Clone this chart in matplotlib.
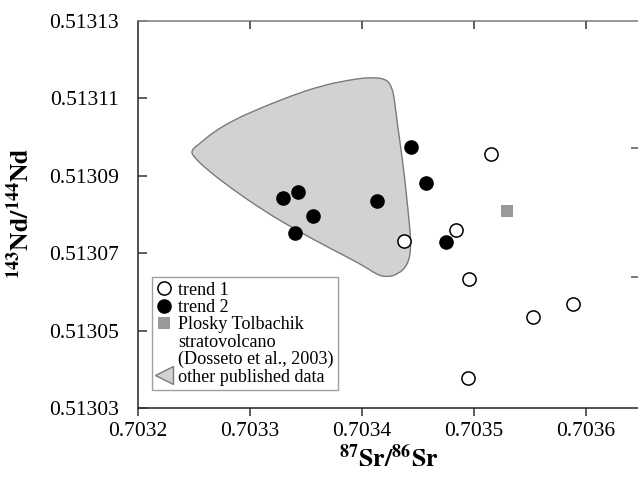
import matplotlib
matplotlib.use("Agg")
import matplotlib.pyplot as plt
from matplotlib.lines import Line2D
from matplotlib.path import Path
from matplotlib.patches import PathPatch

plt.rcParams['font.family'] = ['Liberation Serif', 'DejaVu Serif']
plt.rcParams['mathtext.fontset'] = 'stix'

# ---- data ----
trend1_sr = [0.7035156, 0.7034379, 0.7034835, 0.7034954, 0.7035882, 0.7035525, 0.7034945]
trend1_nd = [0.5130956, 0.5130731, 0.5130761, 0.5130634, 0.5130569, 0.5130536, 0.5130377]

trend2_sr = [0.7033293, 0.7033427, 0.7033564, 0.7033406, 0.7034136, 0.7034439, 0.7034573, 0.7034754]
trend2_nd = [0.5130842, 0.5130859, 0.5130797, 0.5130752, 0.5130834, 0.5130974, 0.5130882, 0.5130728]

plosky_sr = [0.7035296]
plosky_nd = [0.5130810]

# outline of the "other published data" field (control points of a smooth closed curve)
field_sr = [0.7032470, 0.7032558, 0.7032674, 0.7032853, 0.7033094, 0.7033362, 0.7033629,
            0.7033871, 0.7034076, 0.7034220, 0.7034270, 0.7034290, 0.7034317, 0.7034362,
            0.7034397, 0.7034424, 0.7034440, 0.7034410, 0.7034320, 0.7034220, 0.7034130,
            0.7034013, 0.7033719, 0.7033424, 0.7033121, 0.7032826, 0.7032621, 0.7032500]
field_nd = [0.5130965, 0.5130985, 0.5131013, 0.5131044, 0.5131075, 0.5131106, 0.5131132,
            0.5131147, 0.5131155, 0.5131150, 0.5131127, 0.5131096, 0.5131031, 0.5130941,
            0.5130851, 0.5130773, 0.5130715, 0.5130670, 0.5130645, 0.5130638, 0.5130645,
            0.5130668, 0.5130712, 0.5130758, 0.5130810, 0.5130869, 0.5130915, 0.5130948]

x_ticks = [0.7032, 0.7033, 0.7034, 0.7035, 0.7036]
x_ticklabels = ['0.7032', '0.7033', '0.7034', '0.7035', '0.7036']
y_ticks = [0.51303, 0.51305, 0.51307, 0.51309, 0.51311, 0.51313]
y_ticklabels = ['0.51303', '0.51305', '0.51307', '0.51309', '0.51311', '0.51313']
right_ticks = [0.5130639, 0.5130972]

legend_labels = ['trend 1', 'trend 2', 'Plosky Tolbachik', 'stratovolcano',
                 '(Dosseto et al., 2003)', 'other published data']

# ---- figure ----
fig = plt.figure(figsize=(6.38, 4.78), dpi=100)
ax = fig.add_axes([138/638, 1 - 408/478, 500/638, 387/478])

# smooth closed outline: quadratic Beziers through midpoints of the control points
pts = list(zip(field_sr, field_nd))
n = len(pts)
mids = [((pts[i][0] + pts[(i + 1) % n][0]) / 2, (pts[i][1] + pts[(i + 1) % n][1]) / 2) for i in range(n)]
verts = [mids[-1]]
codes = [Path.MOVETO]
for i in range(n):
    verts += [pts[i], mids[i]]
    codes += [Path.CURVE3, Path.CURVE3]
verts.append(mids[-1])
codes.append(Path.CLOSEPOLY)
ax.add_patch(PathPatch(Path(verts, codes), facecolor='#d2d2d2', edgecolor='#7a7a7a',
                       linewidth=1.0, zorder=1))

ax.plot(trend1_sr, trend1_nd, 'o', ms=9.5, mfc='white', mec='black', mew=1.1, zorder=3)
ax.plot(trend2_sr, trend2_nd, 'o', ms=9.5, mfc='black', mec='black', mew=1.0, zorder=3)
ax.plot(plosky_sr, plosky_nd, 's', ms=9, mfc='#999999', mec='#999999', mew=0, zorder=3)

ax.set_xlim(0.7032, 0.7032 + 500/1120000)
ax.set_ylim(0.51303, 0.51313)

ax.set_xticks(x_ticks)
ax.set_xticklabels(x_ticklabels)
ax.set_yticks(y_ticks)
ax.set_yticklabels(y_ticklabels)

for s in ['left', 'bottom']:
    ax.spines[s].set_color('#333333')
    ax.spines[s].set_linewidth(1.2)
ax.spines['top'].set_color('#888888')
ax.spines['top'].set_linewidth(1.2)
ax.spines['right'].set_visible(False)

ax.tick_params(axis='x', which='both', direction='out', length=6, width=1.1, color='#333333',
               labelsize=15.5, pad=4, top=False)
ax.tick_params(axis='y', which='both', direction='in', length=6.5, width=1.1, color='#333333',
               labelsize=15.5, pad=13.5, right=False)

# inward top ticks
axt = ax.twiny()
axt.set_xlim(ax.get_xlim())
axt.set_xticks(x_ticks)
axt.tick_params(axis='x', direction='in', length=6, width=1.3, color='#555555',
                labeltop=False, top=True)
for s in axt.spines.values():
    s.set_visible(False)

# right-hand ticks at the cropped edge
axr = ax.twinx()
axr.set_ylim(ax.get_ylim())
axr.set_yticks(right_ticks)
axr.tick_params(axis='y', direction='in', length=5, width=1.1, color='#555555', labelright=False)
for s in axr.spines.values():
    s.set_visible(False)

# labels
fig.text(389/638, 1 - 458/478, r'$^{\mathbf{87}}\mathbf{Sr/}^{\mathbf{86}}\mathbf{Sr}$',
         ha='center', va='center', fontsize=18.5)
fig.text(20/638, 1 - 213/478, r'$^{\mathbf{143}}\mathbf{Nd/}^{\mathbf{144}}\mathbf{Nd}$',
         ha='center', va='center', rotation=90, fontsize=18.5)

# legend
blank = Line2D([], [], ls='none')
handles = [
    Line2D([], [], ls='none', marker='o', ms=9.5, mfc='white', mec='black', mew=1.1),
    Line2D([], [], ls='none', marker='o', ms=9.5, mfc='black', mec='black'),
    Line2D([], [], ls='none', marker='s', ms=9, mfc='#999999', mec='#999999', mew=0),
    blank, blank,
    Line2D([], [], ls='none', marker='<', ms=13, mfc='#d2d2d2', mec='#7a7a7a', mew=1.0),
]
leg = ax.legend(handles, legend_labels, loc='upper left',
                bbox_to_anchor=(14/500, (408-277)/387),
                borderaxespad=0, fontsize=13.1, frameon=True, fancybox=False,
                handlelength=0.8, handletextpad=0.4, borderpad=0.25, labelspacing=0.02,
                edgecolor='#888888')
leg.get_frame().set_linewidth(1.0)
leg.set_zorder(5)

fig.savefig('out.png', dpi=100)
